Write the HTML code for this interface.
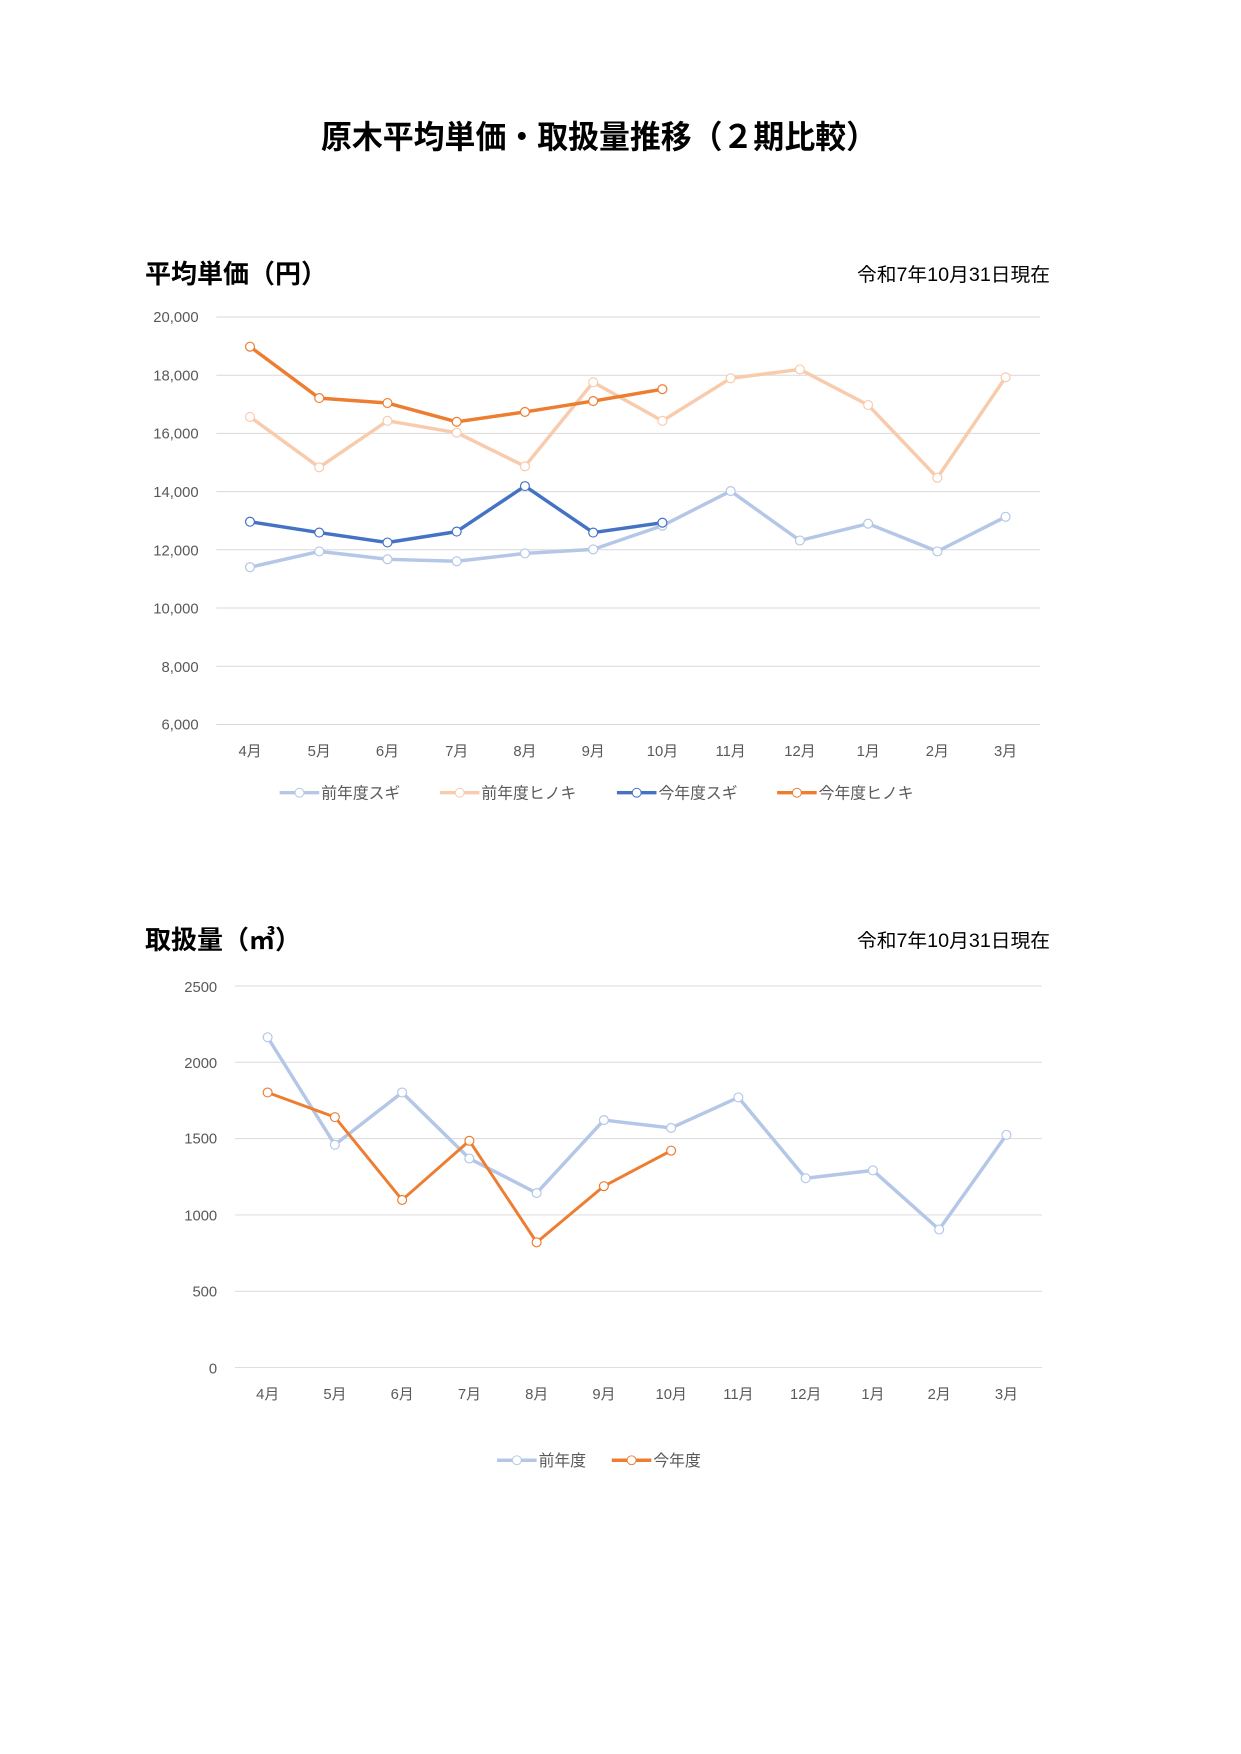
<!DOCTYPE html>
<html><head><meta charset="utf-8"><style>
html,body{margin:0;padding:0;background:#fff;}
svg{display:block;}
text{font-family:"Liberation Sans","Noto Sans CJK JP",sans-serif;}
</style></head><body>
<svg width="1241" height="1754" viewBox="0 0 1241 1754" xmlns="http://www.w3.org/2000/svg">
<text x="321" y="148" font-size="32" font-weight="bold" fill="#000" textLength="556" lengthAdjust="spacingAndGlyphs">原木平均単価・取扱量推移（２期比較）</text>

<!-- Chart 1 -->
<text x="145" y="283" font-size="26" font-weight="bold" fill="#000">平均単価（円）</text>
<text x="857" y="281" font-size="19" fill="#000" textLength="193" lengthAdjust="spacingAndGlyphs">令和7年10月31日現在</text>
<g transform="translate(0.77,1.5) scale(0.989)">
<g stroke="#d9d9d9" stroke-width="1">
<line x1="218" y1="319" x2="1051" y2="319"/><line x1="218" y1="377.9" x2="1051" y2="377.9"/>
<line x1="218" y1="436.7" x2="1051" y2="436.7"/><line x1="218" y1="495.6" x2="1051" y2="495.6"/>
<line x1="218" y1="554.4" x2="1051" y2="554.4"/><line x1="218" y1="613.3" x2="1051" y2="613.3"/>
<line x1="218" y1="672.1" x2="1051" y2="672.1"/><line x1="218" y1="731" x2="1051" y2="731"/>
</g>
<g font-size="15" fill="#595959" text-anchor="end">
<text x="200" y="324">20,000</text><text x="200" y="383">18,000</text><text x="200" y="442">16,000</text>
<text x="200" y="501">14,000</text><text x="200" y="560">12,000</text><text x="200" y="619">10,000</text>
<text x="200" y="678">8,000</text><text x="200" y="736">6,000</text>
</g>
<g font-size="15" fill="#595959" text-anchor="middle">
<text x="252" y="763">4月</text><text x="322" y="763">5月</text><text x="391" y="763">6月</text><text x="461" y="763">7月</text>
<text x="530" y="763">8月</text><text x="599" y="763">9月</text><text x="669" y="763">10月</text><text x="738" y="763">11月</text>
<text x="808" y="763">12月</text><text x="877" y="763">1月</text><text x="947" y="763">2月</text><text x="1016" y="763">3月</text>
</g>
<polyline fill="none" stroke="#b4c7e7" stroke-width="3.5" stroke-linejoin="round" points="252,572 322,556 391,564 461,566 530,558 599,554 669,530 738,495 808,545 877,528 947,556 1016,521"/>
<polyline fill="none" stroke="#f8cbad" stroke-width="3.5" stroke-linejoin="round" points="252,420 322,471 391,424 461,436 530,470 599,385 669,424 738,381 808,372 877,408 947,481.5 1016,380"/>
<polyline fill="none" stroke="#4472c4" stroke-width="3.5" stroke-linejoin="round" points="252,526 322,537 391,547 461,536 530,490 599,537 669,527"/>
<polyline fill="none" stroke="#ed7d31" stroke-width="3.5" stroke-linejoin="round" points="252,349 322,401 391,406 461,425 530,415 599,404 669,392"/>
<g fill="#fff" stroke="#b4c7e7" stroke-width="1.2">
<circle cx="252" cy="572" r="4.5"/><circle cx="322" cy="556" r="4.5"/><circle cx="391" cy="564" r="4.5"/><circle cx="461" cy="566" r="4.5"/><circle cx="530" cy="558" r="4.5"/><circle cx="599" cy="554" r="4.5"/><circle cx="669" cy="530" r="4.5"/><circle cx="738" cy="495" r="4.5"/><circle cx="808" cy="545" r="4.5"/><circle cx="877" cy="528" r="4.5"/><circle cx="947" cy="556" r="4.5"/><circle cx="1016" cy="521" r="4.5"/>
</g>
<g fill="#fff" stroke="#f8cbad" stroke-width="1.2">
<circle cx="252" cy="420" r="4.5"/><circle cx="322" cy="471" r="4.5"/><circle cx="391" cy="424" r="4.5"/><circle cx="461" cy="436" r="4.5"/><circle cx="530" cy="470" r="4.5"/><circle cx="599" cy="385" r="4.5"/><circle cx="669" cy="424" r="4.5"/><circle cx="738" cy="381" r="4.5"/><circle cx="808" cy="372" r="4.5"/><circle cx="877" cy="408" r="4.5"/><circle cx="947" cy="481.5" r="4.5"/><circle cx="1016" cy="380" r="4.5"/>
</g>
<g fill="#fff" stroke="#4472c4" stroke-width="1.2">
<circle cx="252" cy="526" r="4.5"/><circle cx="322" cy="537" r="4.5"/><circle cx="391" cy="547" r="4.5"/><circle cx="461" cy="536" r="4.5"/><circle cx="530" cy="490" r="4.5"/><circle cx="599" cy="537" r="4.5"/><circle cx="669" cy="527" r="4.5"/>
</g>
<g fill="#fff" stroke="#ed7d31" stroke-width="1.2">
<circle cx="252" cy="349" r="4.5"/><circle cx="322" cy="401" r="4.5"/><circle cx="391" cy="406" r="4.5"/><circle cx="461" cy="425" r="4.5"/><circle cx="530" cy="415" r="4.5"/><circle cx="599" cy="404" r="4.5"/><circle cx="669" cy="392" r="4.5"/>
</g>
<g font-size="16" fill="#595959">
<line x1="282" y1="800" x2="322" y2="800" stroke="#b4c7e7" stroke-width="3.5"/><circle cx="302" cy="800" r="4.5" fill="#fff" stroke="#b4c7e7"/><text x="324" y="806">前年度スギ</text>
<line x1="444" y1="800" x2="484" y2="800" stroke="#f8cbad" stroke-width="3.5"/><circle cx="464" cy="800" r="4.5" fill="#fff" stroke="#f8cbad"/><text x="486" y="806">前年度ヒノキ</text>
<line x1="623" y1="800" x2="663" y2="800" stroke="#4472c4" stroke-width="3.5"/><circle cx="643" cy="800" r="4.5" fill="#fff" stroke="#4472c4"/><text x="665" y="806">今年度スギ</text>
<line x1="785" y1="800" x2="825" y2="800" stroke="#ed7d31" stroke-width="3.5"/><circle cx="805" cy="800" r="4.5" fill="#fff" stroke="#ed7d31"/><text x="827" y="806">今年度ヒノキ</text>
</g>
</g>

<!-- Chart 2 -->
<text x="145" y="949" font-size="26" font-weight="bold" fill="#000">取扱量（㎥）</text>
<text x="857" y="947" font-size="19" fill="#000" textLength="193" lengthAdjust="spacingAndGlyphs">令和7年10月31日現在</text>
<g transform="translate(-0.4,12.8) scale(0.989,0.986)">
<g stroke="#d9d9d9" stroke-width="1">
<line x1="238" y1="987" x2="1054" y2="987"/><line x1="238" y1="1064.4" x2="1054" y2="1064.4"/>
<line x1="238" y1="1141.8" x2="1054" y2="1141.8"/><line x1="238" y1="1219.2" x2="1054" y2="1219.2"/>
<line x1="238" y1="1296.6" x2="1054" y2="1296.6"/><line x1="238" y1="1374" x2="1054" y2="1374"/>
</g>
<g font-size="15" fill="#595959" text-anchor="end">
<text x="220" y="993">2500</text><text x="220" y="1070">2000</text><text x="220" y="1147">1500</text>
<text x="220" y="1225">1000</text><text x="220" y="1302">500</text><text x="220" y="1380">0</text>
</g>
<g font-size="15" fill="#595959" text-anchor="middle">
<text x="271" y="1406">4月</text><text x="339" y="1406">5月</text><text x="407" y="1406">6月</text><text x="475" y="1406">7月</text>
<text x="543" y="1406">8月</text><text x="611" y="1406">9月</text><text x="679" y="1406">10月</text><text x="747" y="1406">11月</text>
<text x="815" y="1406">12月</text><text x="883" y="1406">1月</text><text x="950" y="1406">2月</text><text x="1018" y="1406">3月</text>
</g>
<polyline fill="none" stroke="#b4c7e7" stroke-width="3.5" stroke-linejoin="round" points="271,1039 339,1148 407,1095 475,1162 543,1197 611,1123 679,1131 747,1100 815,1182 883,1174 950,1234 1018,1138"/>
<polyline fill="none" stroke="#ed7d31" stroke-width="3" stroke-linejoin="round" points="271,1095 339,1120 407,1204 475,1144 543,1247 611,1190 679,1154"/>
<g fill="#fff" stroke="#b4c7e7" stroke-width="1.2">
<circle cx="271" cy="1039" r="4.5"/><circle cx="339" cy="1148" r="4.5"/><circle cx="407" cy="1095" r="4.5"/><circle cx="475" cy="1162" r="4.5"/><circle cx="543" cy="1197" r="4.5"/><circle cx="611" cy="1123" r="4.5"/><circle cx="679" cy="1131" r="4.5"/><circle cx="747" cy="1100" r="4.5"/><circle cx="815" cy="1182" r="4.5"/><circle cx="883" cy="1174" r="4.5"/><circle cx="950" cy="1234" r="4.5"/><circle cx="1018" cy="1138" r="4.5"/>
</g>
<g fill="#fff" stroke="#ed7d31" stroke-width="1.2">
<circle cx="271" cy="1095" r="4.5"/><circle cx="339" cy="1120" r="4.5"/><circle cx="407" cy="1204" r="4.5"/><circle cx="475" cy="1144" r="4.5"/><circle cx="543" cy="1247" r="4.5"/><circle cx="611" cy="1190" r="4.5"/><circle cx="679" cy="1154" r="4.5"/>
</g>
<g font-size="16" fill="#595959">
<line x1="503" y1="1468" x2="543" y2="1468" stroke="#b4c7e7" stroke-width="3.5"/><circle cx="523" cy="1468" r="4.5" fill="#fff" stroke="#b4c7e7"/><text x="545" y="1474">前年度</text>
<line x1="619" y1="1468" x2="659" y2="1468" stroke="#ed7d31" stroke-width="3.5"/><circle cx="639" cy="1468" r="4.5" fill="#fff" stroke="#ed7d31"/><text x="661" y="1474">今年度</text>
</g>
</g>
</svg>
</body></html>
